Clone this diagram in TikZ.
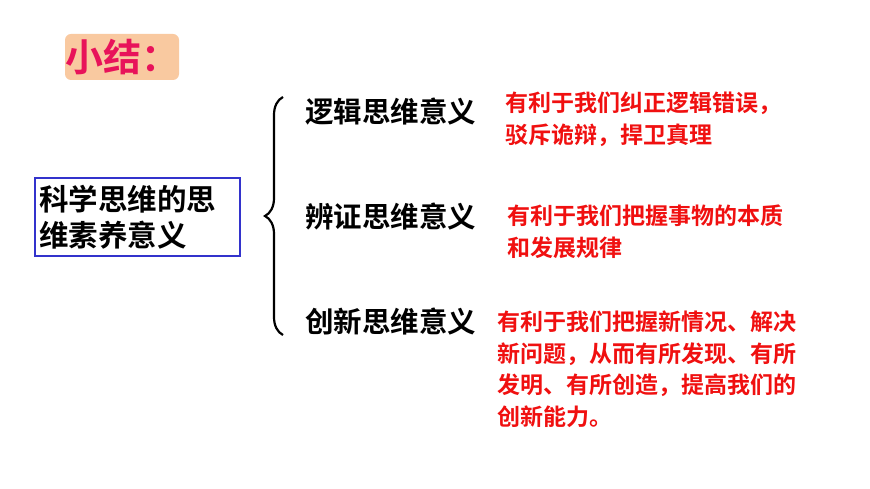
\documentclass[tikz,border=0pt]{standalone}
\usepackage{fontspec}
\newfontfamily\cjk{Noto Sans CJK SC Bold}
\usetikzlibrary{decorations.pathreplacing}
\definecolor{tred}{HTML}{E8135A}
\definecolor{tbg}{HTML}{F9C9A0}
\definecolor{bblue}{HTML}{3333CC}
\definecolor{rtx}{HTML}{F01010}
\begin{document}
\begin{tikzpicture}[x=1pt,y=-1pt,
  lab/.style={anchor=west,font=\cjk\fontsize{28.5}{30}\selectfont,inner sep=0pt},
  red/.style={anchor=north west,align=left,text=rtx,font=\cjk\fontsize{23}{31.5}\selectfont,inner sep=0pt}]
\useasboundingbox (0,0) rectangle (870,489);
\fill[white] (0,0) rectangle (870,489);
\node[fill=tbg,rounded corners=6pt,minimum width=108pt,minimum height=46pt,text=tred,font=\cjk\fontsize{38}{40}\selectfont,inner sep=0pt] (title) at (122,57) {小结：};
\node[draw=bblue,line width=1.5pt,minimum width=205pt,minimum height=78pt,align=left,font=\cjk\fontsize{29.5}{36}\selectfont,inner sep=4pt,text width=197pt] (main) at (137.5,217) {科学思维的思\\维素养意义};
\coordinate (bt) at (283,97);
\coordinate (bb) at (283,335);
\draw[line width=2.2pt,decorate,decoration={brace,amplitude=18pt,aspect=0.5}] (bb) -- (bt);
\node[lab] (l1) at (305,112) {逻辑思维意义};
\node[lab] (l2) at (305,217) {辨证思维意义};
\node[lab] (l3) at (305,322) {创新思维意义};
\node[red] (r1) at (505,92) {有利于我们纠正逻辑错误，\\驳斥诡辩，捍卫真理};
\node[red] (r2) at (507,205) {有利于我们把握事物的本质\\和发展规律};
\node[red] (r3) at (497,311) {有利于我们把握新情况、解决\\新问题，从而有所发现、有所\\发明、有所创造，提高我们的\\创新能力。};
\end{tikzpicture}
\end{document}
